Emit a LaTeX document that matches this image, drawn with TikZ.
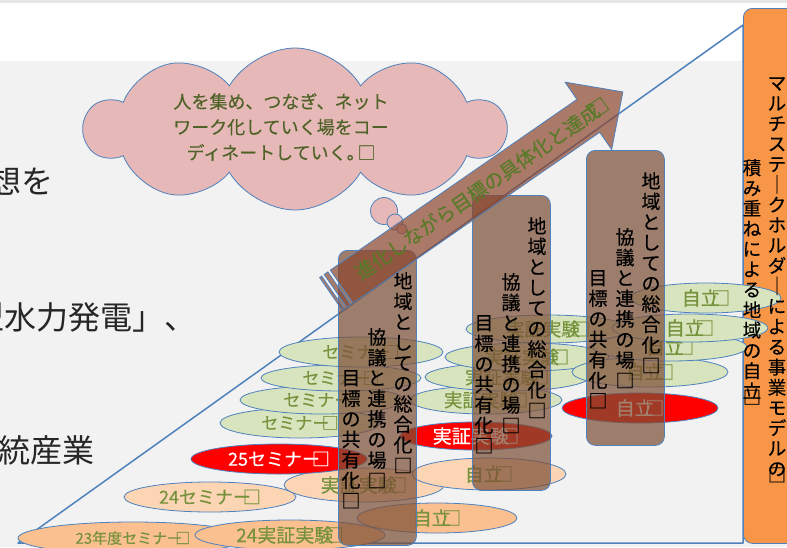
\documentclass[tikz,border=0pt]{standalone}
\usepackage{fontspec}
\setmainfont{Noto Sans CJK JP}[FakeBold=0.35]
\newfontfamily\thinjp{Noto Sans CJK JP}
\usetikzlibrary{shapes.geometric,shapes.symbols}
\definecolor{bgray}{HTML}{F2F2F2}
\definecolor{topgray}{HTML}{E6E6E6}
\definecolor{pblue}{HTML}{4F81BD}
\definecolor{porange}{HTML}{F79646}
\definecolor{cloudpink}{HTML}{E6B9B8}
\definecolor{dolive}{HTML}{4F6228}
\definecolor{olive}{HTML}{76923C}
\definecolor{arrtext}{HTML}{5A7A2A}
\definecolor{lgreen}{HTML}{D7E4BD}
\definecolor{peachA}{HTML}{FAC090}
\definecolor{peachB}{HTML}{FCD5B5}
\definecolor{boxbrown}{RGB}{125,80,55}
\definecolor{arrbrown}{RGB}{140,70,45}
\definecolor{fragtext}{HTML}{262626}
\newcommand{\bx}{\hspace{-0.45em}□}
\newcommand{\fs}[1]{\fontsize{#1}{#1}\selectfont}
\begin{document}
\begin{tikzpicture}[x=1pt,y=-1pt,
  ell/.style={ellipse, draw=pblue, line width=0.8pt, inner sep=0pt, text=olive},
  gre/.style={ell, fill=lgreen},
  pka/.style={ell, fill=peachA},
  pkb/.style={ell, fill=peachB},
  rede/.style={ell, fill=red, text=white},
  bbox/.style={draw=pblue, line width=0.8pt, fill=boxbrown, fill opacity=0.72, rounded corners=9pt, minimum width=78, minimum height=295, anchor=north west, inner sep=0pt},
  vcol/.style={align=center, inner sep=0pt, anchor=north, font=\fontsize{19}{20.5}\selectfont},
  ocol/.style={align=center, inner sep=0pt, anchor=north, font=\fontsize{18.5}{20.3}\selectfont},
  frag/.style={inner sep=0pt, text=fragtext, font=\thinjp\fs{32}},
  arr/.style={draw=pblue, line width=0.8pt, fill=arrbrown, fill opacity=0.7},
]
\useasboundingbox (0,0) rectangle (787,547);
\clip (0,0) rectangle (787,547);
\fill[white] (0,0) rectangle (787,61);
\fill[topgray] (0,0) rectangle (787,3);
\fill[bgray] (0,61) rectangle (787,547);

% left text fragments
\node[frag, anchor=east] (fragA) at (54,181) {想を};
\node[frag, anchor=west] (fragB) at (-28,317) {型水力発電」、};
\node[frag, anchor=east] (fragC) at (95,450) {統産業};

% triangle
\draw[pblue, line width=1.5pt, line join=round] (18,543) -- (743,25) -- (743,543) -- cycle;

% orange box
\node[draw=pblue, fill=porange, line width=0.8pt, rounded corners=9pt, minimum width=60, minimum height=535, anchor=north west, inner sep=0pt] (obox) at (743,8) {};

% cloud
\node[cloud, cloud puffs=10, cloud puff arc=120, aspect=2.6, draw=pblue, fill=cloudpink, line width=0.8pt, minimum width=420, minimum height=162] (cloud) at (295,129) {};
\node[text=dolive, align=center, font=\fontsize{18}{25.5}\selectfont] (cloudtxt) at (281,127) {人を集め、つなぎ、ネット\\ワーク化していく場をコー\\ディネートしていく。\hspace{-0.4em}□};
\node[circle, draw=pblue, fill=cloudpink, line width=0.8pt, minimum size=27, inner sep=0pt] (bub1) at (384,211) {};
\node[circle, draw=pblue, fill=cloudpink, line width=0.8pt, minimum size=16, inner sep=0pt] (bub2) at (395,222) {};
\node[circle, draw=pblue, fill=cloudpink, line width=0.8pt, minimum size=10, inner sep=0pt] (bub3) at (402,229) {};

% left group ellipses
\node[pka, minimum width=230, minimum height=32, font=\fs{15}] (s23) at (133,538) {23年度セミナー\bx};
\node[pkb, minimum width=172, minimum height=30, font=\fs{18}] (s24) at (210,497) {24セミナー\bx};
\node[pka, minimum width=190, minimum height=30, font=\fs{19}] (j24) at (290,535) {24実証実験\bx};
\node[pkb, minimum width=160, minimum height=34, font=\fs{19}] (jp) at (364,485) {実証実験\bx};
\node[pka, minimum width=160, minimum height=30, font=\fs{19}] (jiA) at (437,518) {自立\bx};
\node[rede, minimum width=176, minimum height=30, font=\fs{18}] (s25) at (279,459) {25セミナー\bx};
\node[gre, minimum width=160, minimum height=30, font=\fs{17}] (semD) at (300,423) {セミナー\bx};
\node[gre, minimum width=164, minimum height=28, font=\fs{17}] (semC) at (322,400) {セミナー\bx};
\node[gre, minimum width=160, minimum height=26, font=\fs{17}] (semB) at (341,378) {セミナー\bx};
\node[gre, minimum width=164, minimum height=30, font=\fs{17}] (semA) at (361,352) {セミナー\bx};

% middle group
\node[pkb, minimum width=154, minimum height=32, font=\fs{19}] (jiB) at (489,474) {自立\bx};
\node[rede, minimum width=152, minimum height=28, font=\fs{19}] (jr) at (476,436) {実証実験\bx};
\node[gre, minimum width=152, minimum height=28, font=\fs{18.5}] (jH) at (486,400) {実証実験\bx};
\node[gre, minimum width=164, minimum height=28, font=\fs{18.5}] (jG) at (507,377) {実証実験\bx};
\node[gre, minimum width=164, minimum height=28, font=\fs{18.5}] (jF) at (527,357) {実証実験\bx};
\node[gre, minimum width=164, minimum height=28, font=\fs{18.5}] (jE) at (548,329) {実証実験\bx};

% right group
\node[rede, minimum width=156, minimum height=30, font=\fs{19}] (jiR) at (640,408) {自立\bx};
\node[gre, minimum width=156, minimum height=30, font=\fs{19}] (jiL) at (650,372) {自立\bx};
\node[gre, minimum width=154, minimum height=28, font=\fs{19}] (jiK) at (670,347) {自立\bx};
\node[gre, minimum width=156, minimum height=28, font=\fs{19}] (jiJ) at (690,328) {自立\bx};
\node[gre, minimum width=150, minimum height=30, font=\fs{19}] (jiI) at (706,298) {自立\bx};

% brown boxes
\node[bbox] (boxA) at (338,250) {};
\node[bbox] (boxB) at (472,195) {};
\node[bbox] (boxC) at (586,150) {};
\node[vcol] (a1) at (403,272) {地\\域\\と\\し\\て\\の\\総\\合\\化\\□};
\node[vcol] (a2) at (377,328) {協\\議\\と\\連\\携\\の\\場\\□};
\node[vcol] (a3) at (351,370) {目\\標\\の\\共\\有\\化\\□};
\node[vcol] (b1) at (537,217) {地\\域\\と\\し\\て\\の\\総\\合\\化\\□};
\node[vcol] (b2) at (511,273) {協\\議\\と\\連\\携\\の\\場\\□};
\node[vcol] (b3) at (484,315) {目\\標\\の\\共\\有\\化\\□};
\node[vcol] (c1) at (651,172) {地\\域\\と\\し\\て\\の\\総\\合\\化\\□};
\node[vcol] (c2) at (625,228) {協\\議\\と\\連\\携\\の\\場\\□};
\node[vcol] (c3) at (598,270) {目\\標\\の\\共\\有\\化\\□};

% striped arrow
\begin{scope}[shift={(331,294)}, rotate=34.7]
  \draw[arr] (0,-20) rectangle (2.5,20);
  \draw[arr] (5.5,-20) rectangle (10,20);
  \draw[arr, line join=round] (13,-20) -- (313,-20) -- (313,-41) -- (355,0) -- (313,41) -- (313,20) -- (13,20) -- cycle;
  \node[transform shape, text=arrtext, font=\fs{19.5}, inner sep=0pt] (arrtxt) at (184,-1) {進化しながら目標の具体化と達成\bx};
\end{scope}

% orange box text
\node[ocol] (otA) at (777,77) {マ\\ル\\チ\\ス\\テ\\｜\\ク\\ホ\\ル\\ダ\\｜\\に\\よ\\る\\事\\業\\モ\\デ\\ル\\の\\[-14pt]□};
\node[ocol] (otB) at (752,159) {積\\み\\重\\ね\\に\\よ\\る\\地\\域\\の\\自\\立\\[-14pt]□};
\end{tikzpicture}
\end{document}
